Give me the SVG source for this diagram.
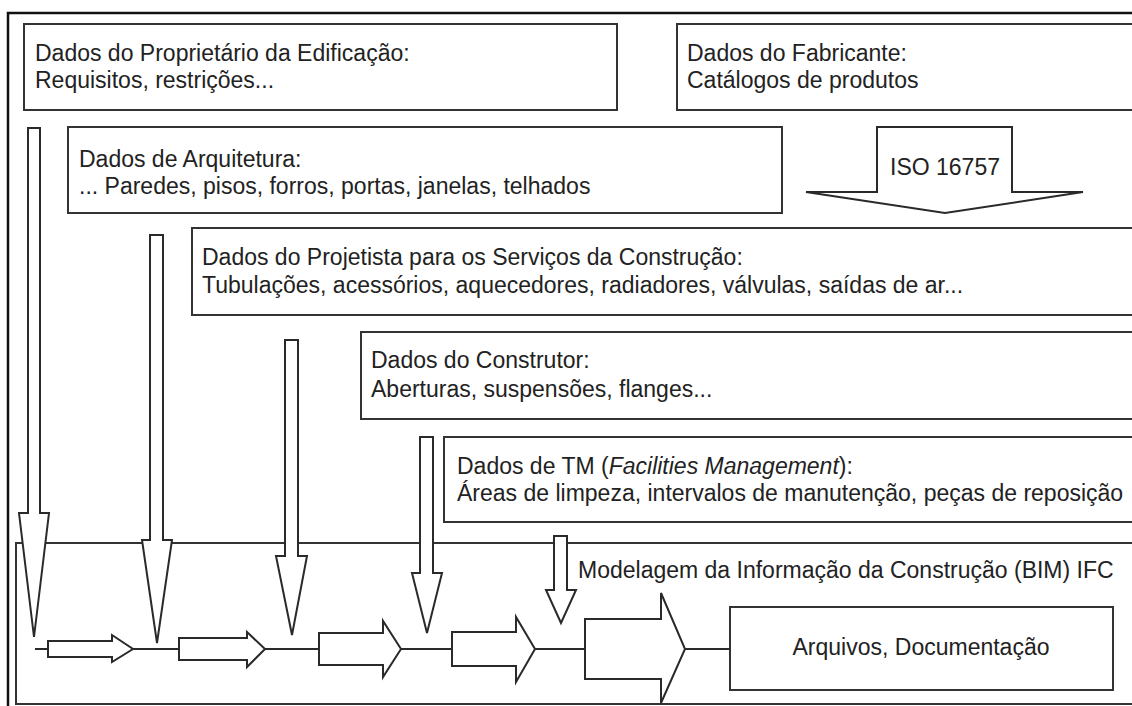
<svg xmlns="http://www.w3.org/2000/svg" width="1132" height="706" viewBox="0 0 1132 706">
<style>
.frame{fill:none;stroke:#111;stroke-width:2.5}
.box{fill:#fff;stroke:#333;stroke-width:2}
.arr{fill:#fff;stroke:#2a2a2a;stroke-width:2;stroke-linejoin:miter}
.ln{fill:none;stroke:#2a2a2a;stroke-width:2}
text{font-family:"Liberation Sans",Arial,sans-serif;font-size:23px;fill:#222}
.it{font-style:italic}
</style>
<rect x="0" y="0" width="1132" height="706" fill="#fff"/>
<rect class="frame" x="8" y="13" width="1140" height="710"/>

<g id="owner">
<rect class="box" x="24" y="24" width="593" height="86"/>
<text x="35" y="61">Dados do Proprietário da Edificação:</text>
<text x="35" y="88">Requisitos, restrições...</text>
</g>

<g id="manufacturer">
<rect class="box" x="677" y="24" width="470" height="86"/>
<text x="687" y="61">Dados do Fabricante:</text>
<text x="687" y="88">Catálogos de produtos</text>
</g>

<g id="architecture">
<rect class="box" x="68" y="127" width="714" height="86"/>
<text x="79" y="167">Dados de Arquitetura:</text>
<text x="79" y="194">... Paredes, pisos, forros, portas, janelas, telhados</text>
</g>

<g id="iso">
<polygon class="arr" points="877,127 1012,127 1012,192 1083,192 945,213 806,192 877,192"/>
<text x="945" y="175" text-anchor="middle">ISO 16757</text>
</g>

<g id="services">
<rect class="box" x="192" y="228" width="955" height="87"/>
<text x="202" y="265">Dados do Projetista para os Serviços da Construção:</text>
<text x="202" y="293">Tubulações, acessórios, aquecedores, radiadores, válvulas, saídas de ar...</text>
</g>

<g id="builder">
<rect class="box" x="361" y="332" width="786" height="87"/>
<text x="371" y="368">Dados do Construtor:</text>
<text x="371" y="397">Aberturas, suspensões, flanges...</text>
</g>

<g id="fm">
<rect class="box" x="444" y="437" width="703" height="85"/>
<text x="457" y="474">Dados de TM (<tspan class="it">Facilities Management</tspan>):</text>
<text x="457" y="501">Áreas de limpeza, intervalos de manutenção, peças de reposição</text>
</g>

<g id="bim">
<rect class="box" x="16" y="543" width="1131" height="161"/>
<text x="578" y="578">Modelagem da Informação da Construção (BIM) IFC</text>
</g>

<g id="files">
<rect class="box" x="730" y="607" width="383" height="83"/>
<text x="921" y="655" text-anchor="middle">Arquivos, Documentação</text>
</g>

<g id="connectors">
<path class="ln" d="M35,649H48M133,649H179M265,649H319M401,649H452M535,649H585M685,649H730"/>
<polygon class="arr" points="48,641 112,641 112,635 133,649 112,662 112,657 48,657"/>
<polygon class="arr" points="179,638 247,638 247,632 265,649 247,667 247,660 179,660"/>
<polygon class="arr" points="319,633 383,633 383,621 401,649 383,677 383,665 319,665"/>
<polygon class="arr" points="452,632 516,632 516,617 535,649 516,682 516,666 452,666"/>
<polygon class="arr" points="585,619 661,619 661,593 685,649 661,703 661,679 585,679"/>
<polygon class="arr" points="28,128 40,128 40,513 49,513 34,637 19,513 28,513"/>
<polygon class="arr" points="150,235 163,235 163,540 172,540 157,643 142,540 150,540"/>
<polygon class="arr" points="285,340 298,340 298,556 307,556 292,635 276,556 285,556"/>
<polygon class="arr" points="420,437 433,437 433,573 442,573 427,633 412,573 420,573"/>
<polygon class="arr" points="554,536 567,536 567,590 576,590 561,623 546,590 554,590"/>
</g>
</svg>
